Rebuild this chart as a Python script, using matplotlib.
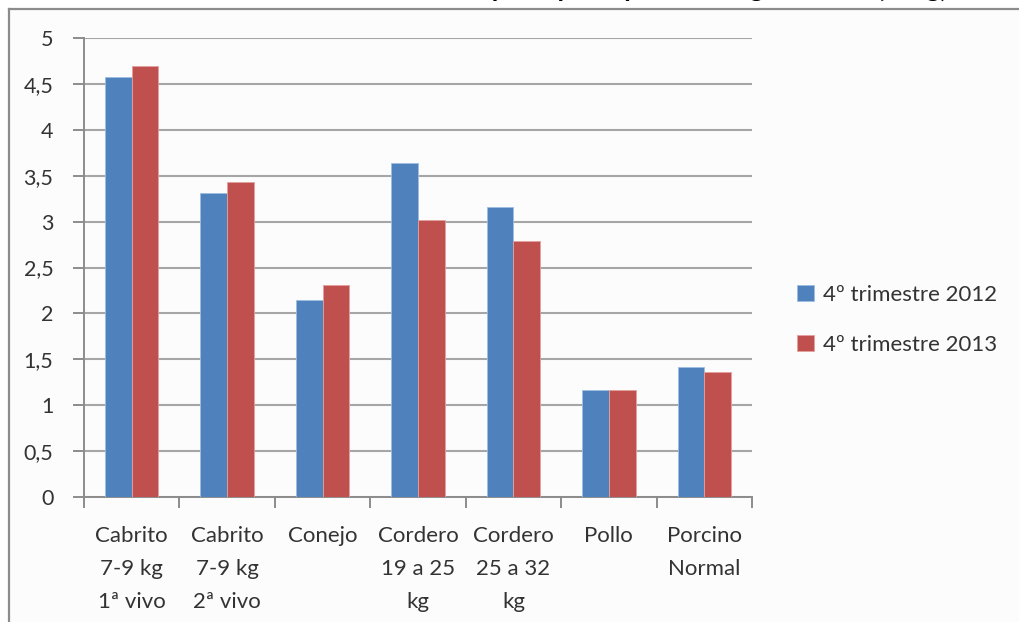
import matplotlib
matplotlib.use("Agg")
import matplotlib.pyplot as plt
import numpy as np

categories = ["Cabrito\n7-9 kg\n1ª vivo", "Cabrito\n7-9 kg\n2ª vivo", "Conejo",
              "Cordero\n19 a 25\nkg", "Cordero\n25 a 32\nkg", "Pollo", "Porcino\nNormal"]
precio_2012 = [4.58, 3.31, 2.15, 3.64, 3.16, 1.17, 1.42]
precio_2013 = [4.70, 3.43, 2.31, 3.02, 2.79, 1.17, 1.36]
series_names = ["4º trimestre 2012", "4º trimestre 2013"]
yticks = [0, 0.5, 1, 1.5, 2, 2.5, 3, 3.5, 4, 4.5, 5]
title = "Gráfico 3. Precios medios de los principales productos ganaderos (€/kg)"

plt.rcParams["font.family"] = ["Lato", "DejaVu Sans"]

W, H = 1020, 622
fig = plt.figure(figsize=(W / 100, H / 100), dpi=100, facecolor="white")

# light panel with grey border on top and left (as in the cropped original)
fig.patches.append(plt.Rectangle((9 / W, 0), 1, (H - 9) / H, transform=fig.transFigure,
                                 facecolor="#fcfcfc", edgecolor="none", zorder=-2))
fig.add_artist(plt.Line2D([9 / W, 9 / W], [0, (H - 9) / H], color="#8c8c8c", lw=1.6))
fig.add_artist(plt.Line2D([9 / W, 1], [(H - 9) / H, (H - 9) / H], color="#8c8c8c", lw=1.6))

# title is cut off at the top edge in the original, only descenders show
fig.text(530 / W, 1 + 3 / H, title, ha="center", va="baseline", fontsize=19,
         fontweight="bold", color="black")

ax = fig.add_axes([84 / W, 125 / H, 668 / W, 459 / H])
ax.set_facecolor("none")

x = np.arange(len(categories))
bw = 0.28
ax.bar(x - bw / 2, precio_2012, bw, color="#4F81BD", edgecolor="#9fbde3", linewidth=0.6,
       label=series_names[0], zorder=3)
ax.bar(x + bw / 2, precio_2013, bw, color="#C0504D", edgecolor="#e3a09e", linewidth=0.6,
       label=series_names[1], zorder=3)

ax.set_xlim(-0.5, len(categories) - 0.5)
ax.set_ylim(0, 5)
ax.set_yticks(yticks)
ax.set_yticklabels([("%g" % v).replace(".", ",") for v in yticks])
ax.set_xticks(x)
ax.set_xticklabels(categories, linespacing=1.8)
ax.set_xticks(np.arange(len(categories) + 1) - 0.5, minor=True)

for sp in ["top", "right"]:
    ax.spines[sp].set_visible(False)
for sp in ["left", "bottom"]:
    ax.spines[sp].set_color("#8c8c8c")
    ax.spines[sp].set_linewidth(1.4)

ax.grid(axis="y", color="#a6a6a6", linewidth=1.5, zorder=0)
ax.tick_params(axis="y", length=8, width=1.4, color="#8c8c8c", labelsize=15.5,
               labelcolor="#333333", pad=14)
ax.tick_params(axis="x", which="major", length=0, labelsize=16, labelcolor="#333333", pad=21)
ax.tick_params(axis="x", which="minor", length=8, width=1.4, color="#8c8c8c")

ax.legend(loc="center left", bbox_to_anchor=(777 / W, 302 / H), bbox_transform=fig.transFigure,
          frameon=False, fontsize=16, handlelength=0.75, handleheight=0.75,
          handletextpad=0.4, labelspacing=1.35, labelcolor="#333333")

fig.savefig("out.png", dpi=100)
